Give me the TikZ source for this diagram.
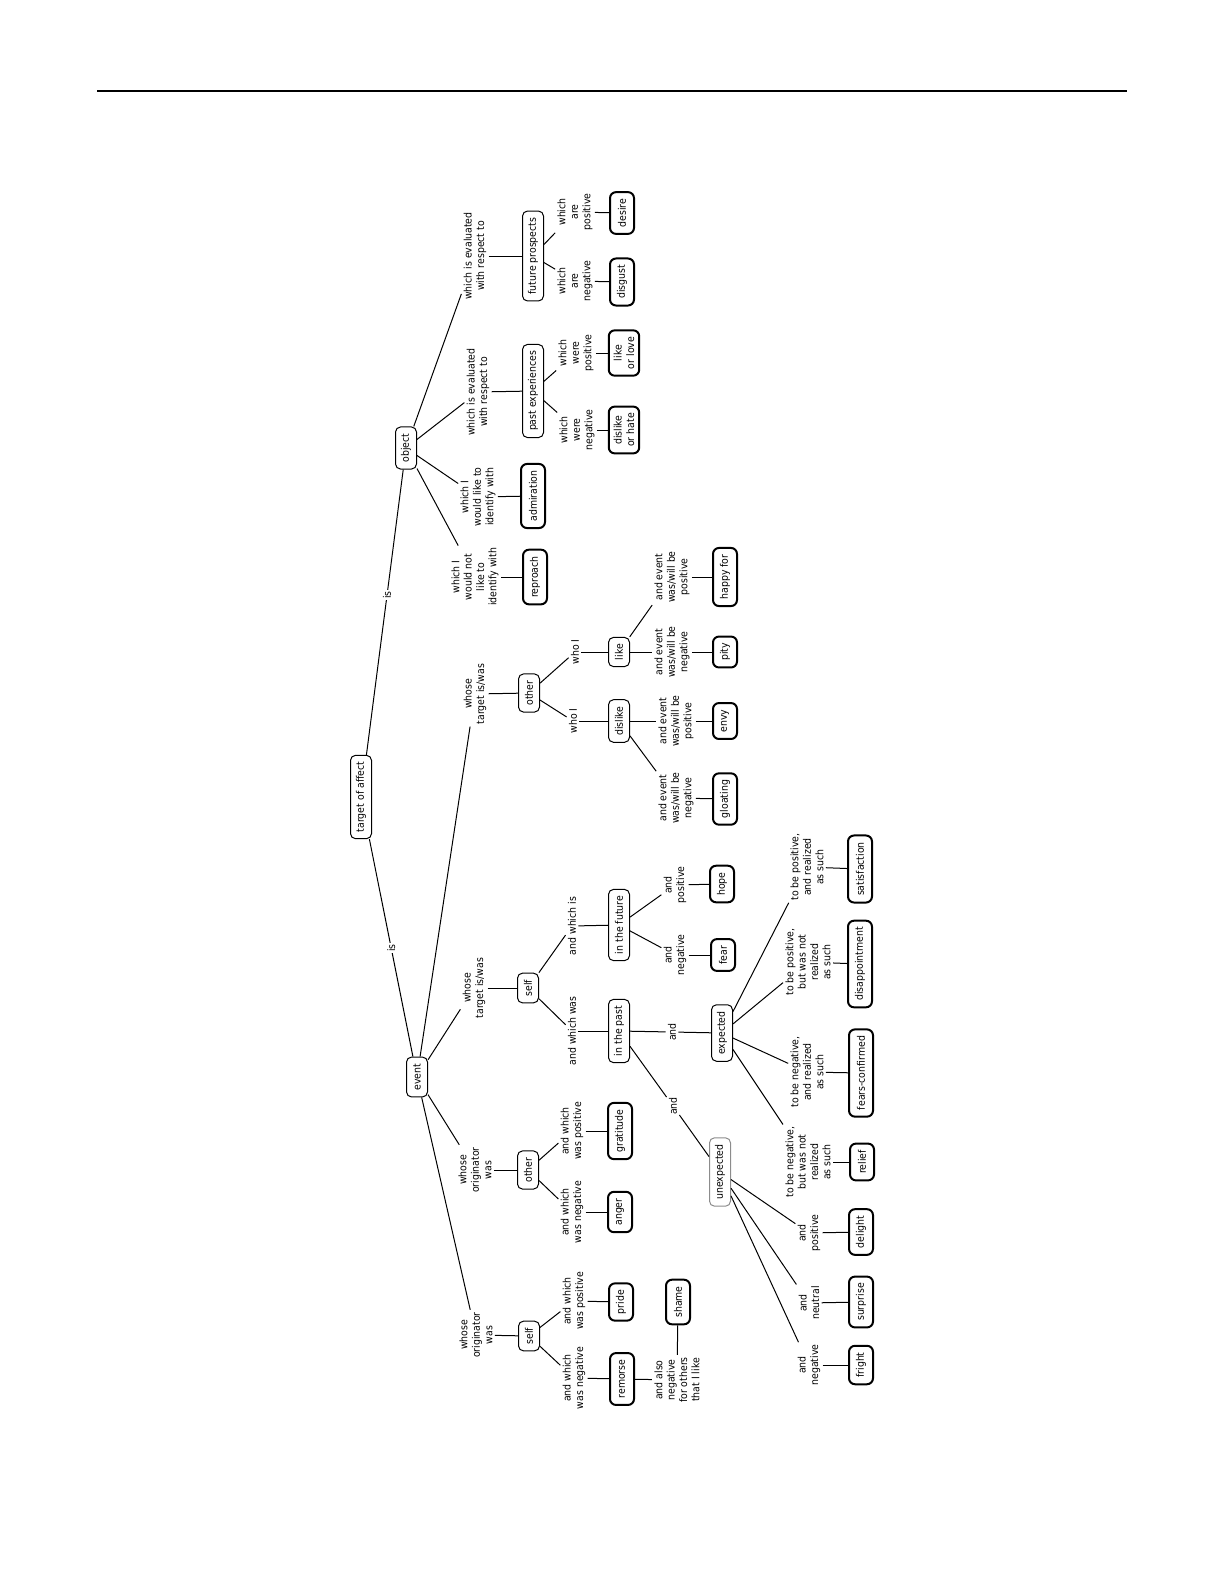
\documentclass[tikz,border=0pt]{standalone}
\usepackage{fontspec}
\setmainfont{DejaVu Sans Condensed}
\newcommand\dgfont{\fontsize{5.2}{6.2}\selectfont}
\begin{document}
\begin{tikzpicture}[x=0.5pt,y=-0.5pt,
  inner/.style={draw, line width=0.5pt, rounded corners=2.5pt, rotate=90, inner xsep=3.3pt, inner ysep=2pt, minimum height=10.5pt, font=\dgfont, align=center},
  grayinner/.style={inner, draw=black!45},
  leaf/.style={draw, line width=1pt, rounded corners=3pt, rotate=90, inner xsep=3.3pt, inner ysep=2.5pt, minimum height=12pt, font=\dgfont, align=center},
  lab/.style={rotate=90, align=center, inner sep=1pt, font=\dgfont},
  islab/.style={rotate=90, fill=white, inner sep=0.8pt, font=\dgfont},
  conn/.style={line width=0.5pt}]
\useasboundingbox (0,0) rectangle (1225,1585);
\coordinate (r1) at (97,91);
\coordinate (r2) at (1127,91);
\draw[line width=1.2pt] (r1) -- (r2);

% root
\node[inner] (toa) at (361,797) {target of affect};
\node[inner] (obj) at (406,448) {object};
\node[inner] (ev) at (417,1077) {event};
\draw[conn] (toa) -- node[islab, pos=0.56] (is1) {is} (obj);
\draw[conn] (toa) -- node[islab, pos=0.5] (is2) {is} (ev);

% object subtree
\node[lab] (lfut) at (475,256) {which is evaluated\\with respect to};
\node[inner] (fut) at (533,256) {future prospects};
\node[lab] (lfneg) at (575,281) {which\\are\\negative};
\node[lab] (lfpos) at (575,212) {which\\are\\positive};
\node[leaf] (disgust) at (622,282) {disgust};
\node[leaf] (desire) at (622,213) {desire};
\node[lab] (lpast) at (478,392) {which is evaluated\\with respect to};
\node[inner] (past) at (533,391) {past experiences};
\node[lab] (lpneg) at (577,430) {which\\were\\negative};
\node[lab] (lppos) at (576,353) {which\\were\\positive};
\node[leaf] (dislikehate) at (624,430) {dislike\\or hate};
\node[leaf] (likelove) at (624,353) {like\\or love};
\node[lab] (ladm) at (478,497) {which I\\would like to\\identify with};
\node[leaf] (adm) at (533,496) {admiration};
\node[lab] (lrep) at (475,577) {which I\\would not\\like to\\identify with};
\node[leaf] (rep) at (535,577) {reproach};

\draw[conn] (obj) -- (lfut);
\draw[conn] (lfut) -- (fut);
\draw[conn] (fut) -- (lfneg);
\draw[conn] (fut) -- (lfpos);
\draw[conn] (lfneg) -- (disgust);
\draw[conn] (lfpos) -- (desire);
\draw[conn] (obj) -- (lpast);
\draw[conn] (lpast) -- (past);
\draw[conn] (past) -- (lpneg);
\draw[conn] (past) -- (lppos);
\draw[conn] (lpneg) -- (dislikehate);
\draw[conn] (lppos) -- (likelove);
\draw[conn] (obj) -- (ladm);
\draw[conn] (ladm) -- (adm);
\draw[conn] (obj) -- (lrep);
\draw[conn] (lrep) -- (rep);

% event: target other
\node[lab] (ltgo) at (475,694) {whose\\target is/was};
\node[inner] (oth1) at (529,693) {other};
\node[lab] (lwho1) at (575,652) {who I};
\node[lab] (lwho2) at (573,721) {who I};
\node[inner] (like) at (619,652) {like};
\node[inner] (dislike) at (619,721) {dislike};
\node[lab] (lhf) at (672,577) {and event\\was/will be\\positive};
\node[leaf] (hf) at (725,577) {happy for};
\node[lab] (lpity) at (672,652) {and event\\was/will be\\negative};
\node[leaf] (pity) at (725,652) {pity};
\node[lab] (lenvy) at (676,721) {and event\\was/will be\\positive};
\node[leaf] (envy) at (725,721) {envy};
\node[lab] (lgl) at (676,798) {and event\\was/will be\\negative};
\node[leaf] (gl) at (725,799) {gloating};

\draw[conn] (ev) -- (ltgo);
\draw[conn] (ltgo) -- (oth1);
\draw[conn] (oth1) -- (lwho1);
\draw[conn] (oth1) -- (lwho2);
\draw[conn] (lwho1) -- (like);
\draw[conn] (lwho2) -- (dislike);
\draw[conn] (like) -- (lhf);
\draw[conn] (like) -- (lpity);
\draw[conn] (dislike) -- (lenvy);
\draw[conn] (dislike) -- (lgl);
\draw[conn] (lhf) -- (hf);
\draw[conn] (lpity) -- (pity);
\draw[conn] (lenvy) -- (envy);
\draw[conn] (lgl) -- (gl);

% event: target self
\node[lab] (ltgs) at (474,988) {whose\\target is/was};
\node[inner] (self1) at (528,988) {self};
\node[lab] (lwis) at (572,926) {and which is};
\node[lab] (lwas) at (572,1031) {and which was};
\node[inner] (fut2) at (619,925) {in the future};
\node[inner] (pst) at (619,1031) {in the past};
\node[lab] (lapos) at (675,885) {and\\positive};
\node[leaf] (hope) at (722,884) {hope};
\node[lab] (laneg) at (675,955) {and\\negative};
\node[leaf] (fear) at (723,955) {fear};
\node[lab] (land1) at (672,1032) {and};
\node[inner] (exp) at (722,1033) {expected};
\node[lab] (land2) at (673,1106) {and};
\node[grayinner] (unexp) at (720,1172) {unexpected};
\node[lab] (lsat) at (807,867) {to be positive,\\and realized\\as such};
\node[leaf] (sat) at (860,869) {satisfaction};
\node[lab] (ldis) at (808,962) {to be positive,\\but was not\\realized\\as such};
\node[leaf] (dis) at (860,964) {disappointment};
\node[lab] (lfc) at (807,1072) {to be negative,\\and realized\\as such};
\node[leaf] (fc) at (861,1073) {fears-confirmed};
\node[lab] (lrel) at (808,1162) {to be negative,\\but was not\\realized\\as such};
\node[leaf] (rel) at (862,1162) {relief};
\node[lab] (ldel) at (809,1233) {and\\positive};
\node[leaf] (del) at (861,1232) {delight};
\node[lab] (lsur) at (809,1303) {and\\neutral};
\node[leaf] (sur) at (861,1302) {surprise};
\node[lab] (lfri) at (809,1365) {and\\negative};
\node[leaf] (fri) at (861,1365) {fright};

\draw[conn] (ev) -- (ltgs);
\draw[conn] (ltgs) -- (self1);
\draw[conn] (self1) -- (lwis);
\draw[conn] (self1) -- (lwas);
\draw[conn] (lwis) -- (fut2);
\draw[conn] (lwas) -- (pst);
\draw[conn] (fut2) -- (lapos);
\draw[conn] (fut2) -- (laneg);
\draw[conn] (lapos) -- (hope);
\draw[conn] (laneg) -- (fear);
\draw[conn] (pst) -- (land1);
\draw[conn] (land1) -- (exp);
\draw[conn] (pst) -- (land2);
\draw[conn] (land2) -- (unexp);
\draw[conn] (exp) -- (lsat);
\draw[conn] (exp) -- (ldis);
\draw[conn] (exp) -- (lfc);
\draw[conn] (exp) -- (lrel);
\draw[conn] (lsat) -- (sat);
\draw[conn] (ldis) -- (dis);
\draw[conn] (lfc) -- (fc);
\draw[conn] (lrel) -- (rel);
\draw[conn] (unexp) -- (ldel);
\draw[conn] (unexp) -- (lsur);
\draw[conn] (unexp) -- (lfri);
\draw[conn] (ldel) -- (del);
\draw[conn] (lsur) -- (sur);
\draw[conn] (lfri) -- (fri);

% event: originator other
\node[lab] (loo) at (475,1170) {whose\\originator\\was};
\node[inner] (oth2) at (528,1170) {other};
\node[lab] (lgr) at (572,1131) {and which\\was positive};
\node[leaf] (gr) at (620,1131) {gratitude};
\node[lab] (lan) at (572,1212) {and which\\was negative};
\node[leaf] (an) at (620,1212) {anger};
\draw[conn] (ev) -- (loo);
\draw[conn] (loo) -- (oth2);
\draw[conn] (oth2) -- (lgr);
\draw[conn] (oth2) -- (lan);
\draw[conn] (lgr) -- (gr);
\draw[conn] (lan) -- (an);

% event: originator self
\node[lab] (los) at (476,1335) {whose\\originator\\was};
\node[inner] (self2) at (529,1336) {self};
\node[lab] (lpr) at (574,1301) {and which\\was positive};
\node[leaf] (pr) at (621,1302) {pride};
\node[lab] (lre) at (574,1378) {and which\\was negative};
\node[leaf] (re) at (622,1379) {remorse};
\node[lab] (lsh) at (677,1380) {and also\\negative\\for others\\that I like};
\node[leaf] (sh) at (678,1302) {shame};
\draw[conn] (ev) -- (los);
\draw[conn] (los) -- (self2);
\draw[conn] (self2) -- (lpr);
\draw[conn] (self2) -- (lre);
\draw[conn] (lpr) -- (pr);
\draw[conn] (lre) -- (re);
\draw[conn] (re) -- (lsh);
\draw[conn] (lsh) -- (sh);
\end{tikzpicture}
\end{document}
